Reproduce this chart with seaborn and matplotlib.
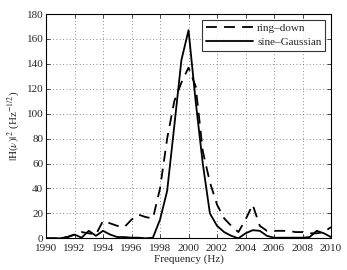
import matplotlib
matplotlib.use("Agg")
import matplotlib.pyplot as plt
import numpy as np
import pandas as pd
import seaborn as sns

sns.set_theme(style="ticks")
plt.rcParams["font.family"] = ["Liberation Serif", "DejaVu Serif"]
plt.rcParams["mathtext.fontset"] = "stix"
plt.rcParams["font.size"] = 8

freq = [1990, 1990.5, 1991, 1991.5, 1992, 1992.5, 1993, 1993.5, 1994, 1994.5,
        1995, 1995.5, 1996, 1996.5, 1997, 1997.5, 1998, 1998.5, 1999, 1999.5,
        2000, 2000.5, 2001, 2001.5, 2002, 2002.5, 2003, 2003.5, 2004, 2004.5,
        2005, 2005.5, 2006, 2006.5, 2007, 2007.5, 2008, 2008.5, 2009, 2009.5, 2010]
ring_down = [0, 0, 0, 1, 3, 5, 4, 3, 14, 12,
             10, 9, 15, 19, 17, 16, 40, 80, 110, 125,
             137, 122, 70, 45, 27, 16, 10, 5, 15, 27,
             10, 6, 6, 6, 6, 5, 5, 4, 4, 5, 9]
sine_gauss = [0, 0, 0, 1, 3, 0.5, 6, 2, 6, 3,
              1, 1, 0.5, 0.5, 0, 0.5, 15, 38, 90, 143,
              167, 110, 60, 20, 10, 5, 2, 0, 4, 6.5,
              6, 2, 0.5, 0.5, 0.5, 0.5, 0.5, 1, 6, 4, 1]

df = pd.DataFrame({"freq": freq, "ring-down": ring_down, "sine-Gaussian": sine_gauss})

fig = plt.figure(figsize=(3.47, 2.70), dpi=100)
ax = fig.add_axes([0.1326, 0.1174, 0.8214, 0.8306])

sns.lineplot(x="freq", y="ring-down", data=df, ax=ax, color="black",
             linestyle="--", linewidth=1.3, label="ring\u2013down")
sns.lineplot(x="freq", y="sine-Gaussian", data=df, ax=ax, color="black",
             linewidth=1.3, label="sine\u2013Gaussian")
ax.lines[0].set_dashes((6, 4))

ax.set(xlim=(1990, 2010), ylim=(0, 180))
ax.set_xticks(np.arange(1990, 2011, 2))
ax.set_yticks(np.arange(0, 181, 20))
ax.grid(True, linestyle=(0, (1, 3)), color="0.4", linewidth=0.6)
ax.tick_params(direction="in", top=True, right=True, length=3, width=0.6,
               labelsize=8, pad=2)
ax.tick_params(axis="x", pad=4)
for s in ax.spines.values():
    s.set_linewidth(0.8)
    s.set_color("black")

ax.set_xlabel("Frequency (Hz)", fontsize=8, labelpad=1)
ax.set_ylabel(r"$|\mathrm{H}(\nu)|^2$ (Hz$^{-1/2}$)", fontsize=8, labelpad=4)

leg = ax.legend(loc="upper right", handlelength=4.2, fontsize=8, frameon=True,
                fancybox=False, borderpad=0.35, labelspacing=0.35,
                borderaxespad=0.5, handletextpad=0.4)
leg.get_frame().set_edgecolor("black")
leg.get_frame().set_linewidth(0.8)

fig.savefig("out.png", dpi=100)
